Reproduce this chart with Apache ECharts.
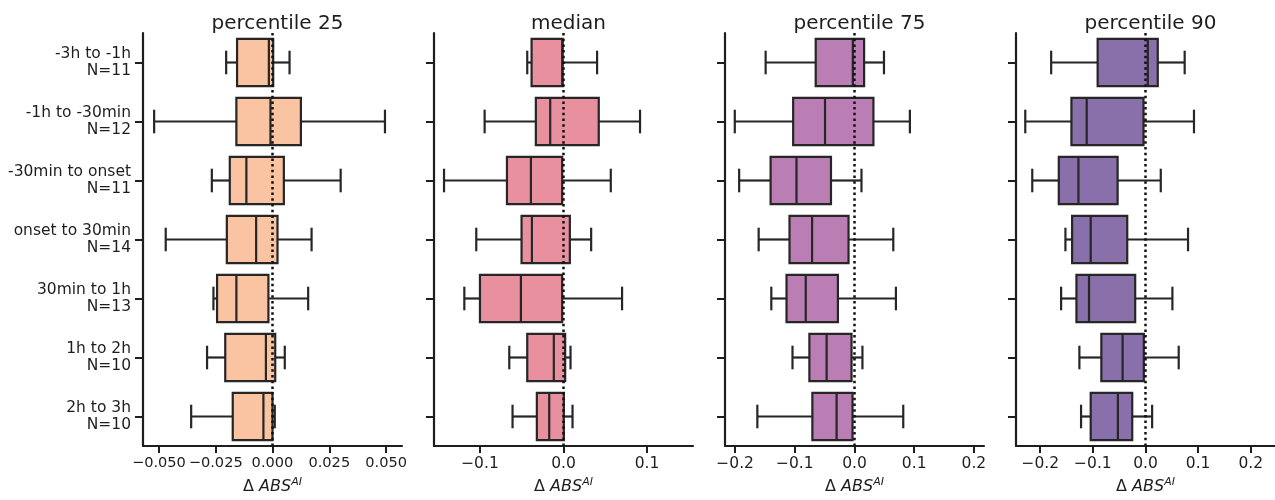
<!DOCTYPE html>
<html>
<head>
<meta charset="utf-8">
<title>Boxplots</title>
<script src="https://cdn.jsdelivr.net/npm/echarts@6/dist/echarts.min.js"></script>
<style>
  html, body { margin: 0; padding: 0; background: #fff; }
</style>
</head>
<body>
<div id="main" style="width:1275px;height:500px;"></div>
<script type="text/javascript">
// categories (top to bottom) and sample sizes
var windows = ['-3h to -1h', '-1h to -30min', '-30min to onset', 'onset to 30min', '30min to 1h', '1h to 2h', '2h to 3h'];
var counts = [11, 12, 11, 14, 13, 10, 10];

// each row: [whisker low, q1, median, q3, whisker high]
var p25 = [
    [-0.0204, -0.0156, -0.0016, 0.0003, 0.0075],
    [-0.0521, -0.0159, -0.0009, 0.0125, 0.0495],
    [-0.0267, -0.0188, -0.0115, 0.0050, 0.0300],
    [-0.0470, -0.0201, -0.0072, 0.0022, 0.0172],
    [-0.0260, -0.0244, -0.0159, -0.0018, 0.0157],
    [-0.0288, -0.0208, -0.0029, 0.0012, 0.0054],
    [-0.0358, -0.0175, -0.0040, 0.0000, 0.0010]
];
var p50 = [
    [-0.0434, -0.0382, -0.0015, -0.0010, 0.0402],
    [-0.0944, -0.0331, -0.0159, 0.0422, 0.0916],
    [-0.1430, -0.0677, -0.0390, -0.0016, 0.0566],
    [-0.1044, -0.0502, -0.0378, 0.0076, 0.0331],
    [-0.1187, -0.1000, -0.0510, -0.0016, 0.0701],
    [-0.0649, -0.0434, -0.0116, 0.0020, 0.0084],
    [-0.0610, -0.0319, -0.0171, 0.0004, 0.0108]
];
var p75 = [
    [-0.1489, -0.0650, -0.0028, 0.0161, 0.0494],
    [-0.2006, -0.1028, -0.0494, 0.0317, 0.0928],
    [-0.1933, -0.1406, -0.0972, -0.0394, 0.0117],
    [-0.1606, -0.1089, -0.0711, -0.0100, 0.0650],
    [-0.1394, -0.1139, -0.0817, -0.0278, 0.0694],
    [-0.1039, -0.0756, -0.0467, -0.0050, 0.0133],
    [-0.1628, -0.0706, -0.0300, -0.0033, 0.0817]
];
var p90 = [
    [-0.1792, -0.0909, 0.0044, 0.0233, 0.0744],
    [-0.2284, -0.1407, -0.1117, -0.0038, 0.0921],
    [-0.2151, -0.1647, -0.1274, -0.0530, 0.0290],
    [-0.1521, -0.1394, -0.1041, -0.0347, 0.0808],
    [-0.1603, -0.1312, -0.1073, -0.0196, 0.0511],
    [-0.1256, -0.0839, -0.0435, -0.0032, 0.0631],
    [-0.1224, -0.1041, -0.0524, -0.0252, 0.0126]
];

// tick labels per panel
var ticks25 = [-0.05, -0.025, 0, 0.025, 0.05];
var ticks50 = [-0.1, 0, 0.1];
var ticks75 = [-0.2, -0.1, 0, 0.1, 0.2];
var ticks90 = [-0.2, -0.1, 0, 0.1, 0.2];

var titles = ['percentile 25', 'median', 'percentile 75', 'percentile 90'];
var panelData = [p25, p50, p75, p90];
var panelTicks = [ticks25, ticks50, ticks75, ticks90];
var panelDigits = [3, 1, 1, 1];
var panelRange = [0.057, 0.155, 0.217, 0.246];
var colors = ['#FAC3A1', '#E8909E', '#BA7DB4', '#8970AA'];

var FONT = 'DejaVu Sans';
var INK = '#1e1e1e';
var EDGE = '#262626';
var lefts = [143, 434, 725, 1016];
var gridW = 259;

function boxRenderer(fill) {
    return function (params, api) {
        var cat = api.value(0);
        var lo = api.coord([api.value(1), cat]);
        var q1 = api.coord([api.value(2), cat]);
        var md = api.coord([api.value(3), cat]);
        var q3 = api.coord([api.value(4), cat]);
        var hi = api.coord([api.value(5), cat]);
        var band = api.size([0, 1])[1];
        var h = band * 0.8;
        var c = h * 0.25;
        var y = lo[1];
        var ln = { stroke: EDGE, lineWidth: 2.2 };
        return {
            type: 'group',
            children: [
                { type: 'line', shape: { x1: lo[0], y1: y, x2: q1[0], y2: y }, style: ln },
                { type: 'line', shape: { x1: q3[0], y1: y, x2: hi[0], y2: y }, style: ln },
                { type: 'line', shape: { x1: lo[0], y1: y - c, x2: lo[0], y2: y + c }, style: ln },
                { type: 'line', shape: { x1: hi[0], y1: y - c, x2: hi[0], y2: y + c }, style: ln },
                { type: 'rect', shape: { x: q1[0], y: y - h / 2, width: q3[0] - q1[0], height: h },
                  style: { fill: fill, stroke: EDGE, lineWidth: 2.2 } },
                { type: 'line', shape: { x1: md[0], y1: y - h / 2, x2: md[0], y2: y + h / 2 }, style: ln }
            ]
        };
    };
}

var grids = [], xAxes = [], yAxes = [], series = [], title = [];

for (var i = 0; i < 4; i++) {
    grids.push({ left: lefts[i], width: gridW, top: 33, height: 420 });
    title.push({
        text: titles[i], left: lefts[i] + gridW / 2, top: 9, textAlign: 'center',
        textStyle: { fontFamily: FONT, fontSize: 20, fontWeight: 'normal', color: INK }
    });
    (function (d) {
        xAxes.push({
            type: 'value', gridIndex: i, min: -panelRange[i], max: panelRange[i],
            splitLine: { show: false },
            axisLine: { show: true, onZero: false, lineStyle: { color: INK, width: 2.2 } },
            axisTick: { show: true, length: 7, lineStyle: { color: INK, width: 2 }, customValues: panelTicks[i] },
            axisLabel: {
                customValues: panelTicks[i], margin: 10, fontFamily: FONT, fontSize: i === 0 ? 14.6 : 15.5, color: INK,
                showMinLabel: true, showMaxLabel: true, hideOverlap: false,
                formatter: function (v) { return v.toFixed(d).replace('-', '\u2212'); }
            },
            name: '{d|\u0394 }{a|ABS}{s|AI}', nameLocation: 'middle', nameGap: 31,
            nameTextStyle: {
                fontFamily: FONT, color: INK,
                rich: {
                    d: { fontFamily: FONT, fontSize: 16, color: INK, lineHeight: 20 },
                    a: { fontFamily: FONT, fontSize: 16, fontStyle: 'italic', color: INK, lineHeight: 20 },
                    s: { fontFamily: FONT, fontSize: 11, fontStyle: 'italic', color: INK, verticalAlign: 'top', lineHeight: 12 }
                }
            }
        });
    })(panelDigits[i]);
    yAxes.push({
        type: 'category', gridIndex: i, inverse: true,
        data: windows.map(function (w, k) { return w + '\nN=' + counts[k]; }),
        axisLine: { show: true, onZero: false, lineStyle: { color: INK, width: 2.2 } },
        axisTick: { show: true, alignWithLabel: true, length: 8, lineStyle: { color: INK, width: 2 } },
        axisLabel: {
            show: i === 0, margin: 12, fontFamily: FONT, fontSize: 15.5, color: INK,
            lineHeight: 17, align: 'right'
        },
        splitLine: { show: false }
    });
    series.push({
        type: 'custom', xAxisIndex: i, yAxisIndex: i,
        renderItem: boxRenderer(colors[i]),
        encode: { x: [1, 2, 3, 4, 5], y: 0 },
        data: panelData[i].map(function (r, k) { return [k].concat(r); }),
        markLine: {
            silent: true, symbol: ['none', 'none'], label: { show: false },
            lineStyle: { color: '#111', width: 2.5, type: [2.5, 3.2] },
            emphasis: { disabled: true },
            data: [{ xAxis: 0 }]
        },
        animation: false
    });
}

var chart = echarts.init(document.getElementById('main'));
chart.setOption({
    animation: false,
    title: title,
    grid: grids,
    xAxis: xAxes,
    yAxis: yAxes,
    series: series
});
</script>
</body>
</html>
